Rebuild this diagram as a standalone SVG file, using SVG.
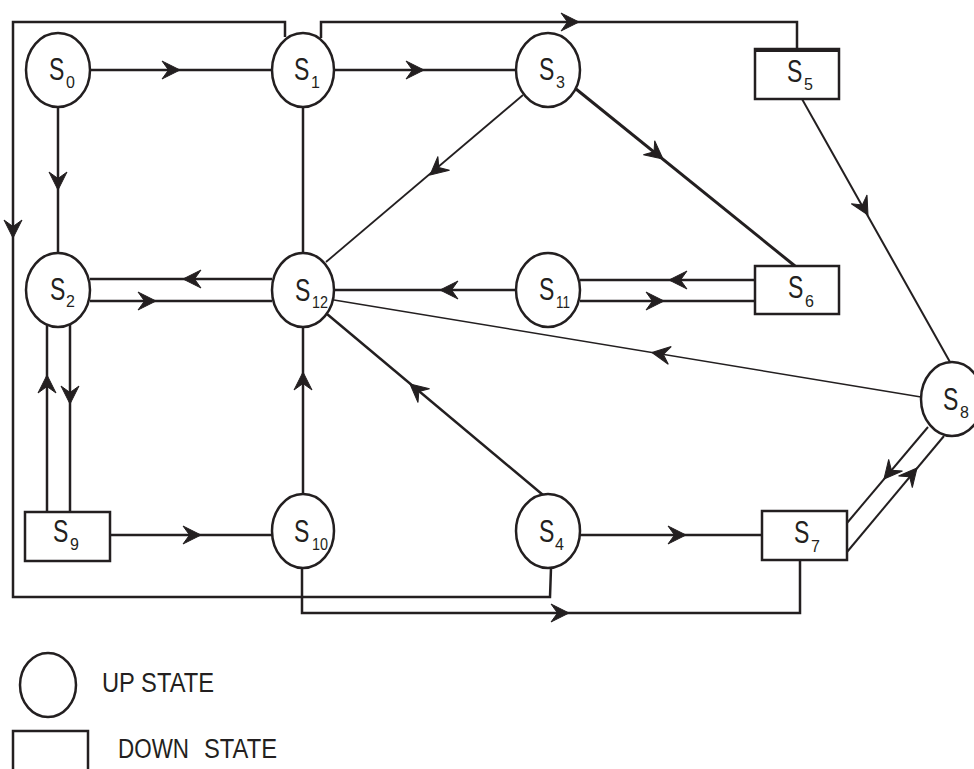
<svg xmlns="http://www.w3.org/2000/svg" xmlns:xlink="http://www.w3.org/1999/xlink" width="974" height="769" viewBox="0 0 974 769">
  <style>
    .st { fill: #fff; stroke: #231f20; stroke-width: 2.5; }
    .ln { fill: none; stroke: #231f20; stroke-width: 2.5; }
    .thin { fill: none; stroke: #231f20; stroke-width: 1.8; }
    .ah { fill: #231f20; stroke: #231f20; stroke-width: 1; stroke-linejoin: miter; }
    .lbl { font-family: "Liberation Sans", Arial, sans-serif; font-size: 32px; fill: #231f20; }
    .sub { font-family: "Liberation Sans", Arial, sans-serif; font-size: 16px; fill: #231f20; }
    .leg { font-family: "Liberation Sans", Arial, sans-serif; font-size: 27px; fill: #231f20; }
  </style>
  <defs>
    <!-- notched arrowhead, tip at origin, pointing along +x -->
    <path id="ah" d="M0,0 L-18,-9 L-11.5,0 L-18,9 Z"/>
  </defs>
  <rect width="974" height="769" fill="#fff"/>

  <g id="connectors">
    <!-- S0 -> S1 -->
    <line class="ln" x1="90" y1="70" x2="272" y2="70"/>
    <use href="#ah" class="ah" transform="translate(180,70)"/>
    <!-- S1 -> S3 -->
    <line class="ln" x1="335" y1="70" x2="516" y2="70"/>
    <use href="#ah" class="ah" transform="translate(424,70)"/>
    <!-- S1 -> S5 over the top -->
    <polyline class="ln" points="321,38 321,22 797,22 797,49"/>
    <use href="#ah" class="ah" transform="translate(579,22)"/>
    <!-- S1 -> S4 round the outside -->
    <polyline class="ln" points="285,37 285,22 13,22 13,597 550,597 551,568"/>
    <use href="#ah" class="ah" transform="translate(13,238) rotate(90)"/>
    <!-- S10 -> S7 underneath -->
    <polyline class="ln" points="302,568 302,613 800,613 800,560"/>
    <use href="#ah" class="ah" transform="translate(569,613)"/>
    <!-- S0 -> S2 -->
    <line class="ln" x1="58" y1="107" x2="58" y2="254"/>
    <use href="#ah" class="ah" transform="translate(58,190) rotate(90)"/>
    <!-- S1 - S12 -->
    <line class="ln" x1="303" y1="107" x2="303" y2="254"/>
    <!-- S3 -> S12 -->
    <line class="thin" x1="523" y1="95" x2="326" y2="262"/>
    <use href="#ah" class="ah" transform="translate(430,175) rotate(139.7)"/>
    <!-- S3 -> S6 -->
    <line class="ln" x1="576" y1="89" x2="795" y2="266" style="stroke-width:3"/>
    <use href="#ah" class="ah" transform="translate(663,159) rotate(39)"/>
    <!-- S5 -> S8 -->
    <line class="ln" x1="802" y1="99" x2="950" y2="362" style="stroke-width:2"/>
    <use href="#ah" class="ah" transform="translate(868,215) rotate(60.6)"/>
    <!-- S12 <-> S2 -->
    <line class="ln" x1="90" y1="279" x2="272" y2="279"/>
    <use href="#ah" class="ah" transform="translate(183,279) rotate(180)"/>
    <line class="ln" x1="90" y1="301" x2="272" y2="301"/>
    <use href="#ah" class="ah" transform="translate(156,301)"/>
    <!-- S11 -> S12 -->
    <line class="ln" x1="334" y1="290" x2="516" y2="290"/>
    <use href="#ah" class="ah" transform="translate(440,290) rotate(180)"/>
    <!-- S6 <-> S11 -->
    <line class="ln" x1="580" y1="280" x2="755" y2="280"/>
    <use href="#ah" class="ah" transform="translate(669,280) rotate(180)"/>
    <line class="ln" x1="580" y1="301" x2="755" y2="301"/>
    <use href="#ah" class="ah" transform="translate(664,301)"/>
    <!-- S8 -> S12 -->
    <line class="thin" x1="921" y1="397" x2="334" y2="300" style="stroke-width:1.5"/>
    <use href="#ah" class="ah" transform="translate(652,352.5) rotate(189.4)"/>
    <!-- S4 -> S12 -->
    <line class="ln" x1="543" y1="495" x2="327" y2="314"/>
    <use href="#ah" class="ah" transform="translate(410,384) rotate(220)"/>
    <!-- S10 -> S12 -->
    <line class="ln" x1="303" y1="495" x2="303" y2="327"/>
    <use href="#ah" class="ah" transform="translate(303,372) rotate(-90)"/>
    <!-- S9 <-> S2 -->
    <line class="ln" x1="47" y1="325" x2="47" y2="512"/>
    <use href="#ah" class="ah" transform="translate(47,375) rotate(-90)"/>
    <line class="ln" x1="70" y1="325" x2="70" y2="512"/>
    <use href="#ah" class="ah" transform="translate(70,404) rotate(90)"/>
    <!-- S9 -> S10 -->
    <line class="ln" x1="110" y1="535" x2="272" y2="535"/>
    <use href="#ah" class="ah" transform="translate(201,535)"/>
    <!-- S4 -> S7 -->
    <line class="ln" x1="580" y1="535" x2="762" y2="535"/>
    <use href="#ah" class="ah" transform="translate(686,535)"/>
    <!-- S8 <-> S7 -->
    <line class="ln" x1="847" y1="523" x2="928" y2="427" style="stroke-width:2"/>
    <use href="#ah" class="ah" transform="translate(884,479) rotate(130)"/>
    <line class="ln" x1="847" y1="552" x2="944" y2="436" style="stroke-width:2"/>
    <use href="#ah" class="ah" transform="translate(917,468) rotate(-50)"/>
  </g>

  <!-- state labels: condensed "S" via horizontal scale, subscript index after it -->
  <g id="S0"><ellipse class="st" cx="58" cy="70" rx="32" ry="37"/>
    <text class="lbl" transform="translate(49,80) scale(0.72,1)">S</text>
    <text class="sub" x="66" y="88">0</text></g>
  <g id="S1"><ellipse class="st" cx="303" cy="70" rx="31" ry="37"/>
    <text class="lbl" transform="translate(294,80) scale(0.72,1)">S</text>
    <text class="sub" x="311" y="88">1</text></g>
  <g id="S3"><ellipse class="st" cx="548" cy="70" rx="32" ry="37"/>
    <text class="lbl" transform="translate(539,80) scale(0.72,1)">S</text>
    <text class="sub" x="556" y="88">3</text></g>
  <g id="S5"><rect class="st" x="755" y="49" width="84" height="50"/>
    <line x1="754" y1="50" x2="840" y2="50" stroke="#231f20" stroke-width="4"/>
    <text class="lbl" transform="translate(787,82) scale(0.72,1)">S</text>
    <text class="sub" x="804" y="90">5</text></g>
  <g id="S2"><ellipse class="st" cx="58" cy="290" rx="32" ry="37"/>
    <text class="lbl" transform="translate(50,300) scale(0.72,1)">S</text>
    <text class="sub" x="66" y="307">2</text></g>
  <g id="S12"><ellipse class="st" cx="303" cy="290" rx="31" ry="37"/>
    <text class="lbl" transform="translate(295,301) scale(0.72,1)">S</text>
    <text class="sub" x="312" y="308" textLength="16" lengthAdjust="spacingAndGlyphs">12</text></g>
  <g id="S11"><ellipse class="st" cx="548" cy="290" rx="32" ry="37"/>
    <text class="lbl" transform="translate(539,300) scale(0.72,1)">S</text>
    <text class="sub" x="556" y="308" textLength="14" lengthAdjust="spacingAndGlyphs">11</text></g>
  <g id="S6"><rect class="st" x="755" y="266" width="84" height="48"/>
    <text class="lbl" transform="translate(788,298) scale(0.72,1)">S</text>
    <text class="sub" x="805" y="307">6</text></g>
  <g id="S8"><ellipse class="st" cx="952" cy="399" rx="31" ry="37"/>
    <text class="lbl" transform="translate(943,410) scale(0.72,1)">S</text>
    <text class="sub" x="960" y="418">8</text></g>
  <g id="S9"><rect class="st" x="25" y="512" width="85" height="49"/>
    <text class="lbl" transform="translate(53,542) scale(0.72,1)">S</text>
    <text class="sub" x="70" y="550">9</text></g>
  <g id="S10"><ellipse class="st" cx="303" cy="531" rx="31" ry="37"/>
    <text class="lbl" transform="translate(294,542) scale(0.72,1)">S</text>
    <text class="sub" x="312" y="550" textLength="16" lengthAdjust="spacingAndGlyphs">10</text></g>
  <g id="S4"><ellipse class="st" cx="548" cy="531" rx="32" ry="37"/>
    <text class="lbl" transform="translate(539,542) scale(0.72,1)">S</text>
    <text class="sub" x="555" y="550">4</text></g>
  <g id="S7"><rect class="st" x="762" y="511" width="85" height="49"/>
    <text class="lbl" transform="translate(794,543) scale(0.72,1)">S</text>
    <text class="sub" x="811" y="552">7</text></g>

  <g id="legend">
    <ellipse class="st" cx="48" cy="685" rx="28" ry="32"/>
    <text class="leg" x="102" y="692" textLength="112" lengthAdjust="spacingAndGlyphs">UP STATE</text>
    <rect class="st" x="13" y="731" width="75" height="60"/>
    <text class="leg" x="118" y="758" textLength="71" lengthAdjust="spacingAndGlyphs">DOWN</text>
    <text class="leg" x="204" y="758" textLength="73" lengthAdjust="spacingAndGlyphs">STATE</text>
  </g>
</svg>
